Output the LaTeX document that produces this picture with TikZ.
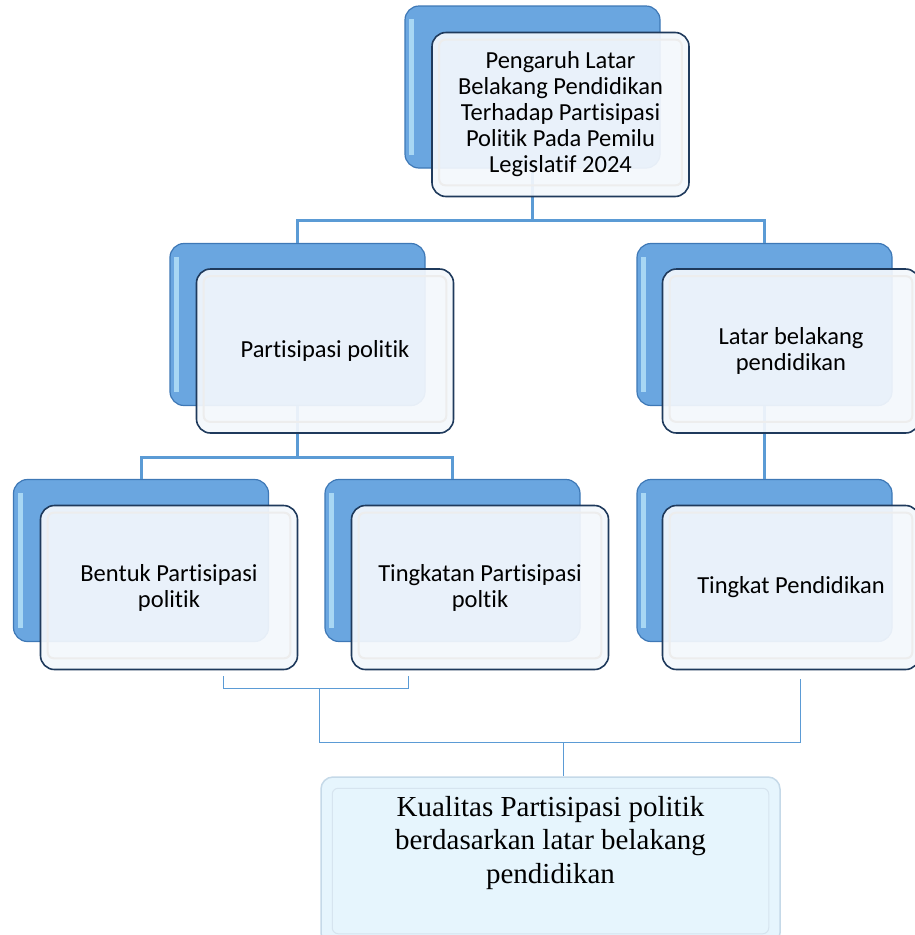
\documentclass[tikz,border=0pt]{standalone}
\usepackage{fontspec}
\setmainfont{Carlito}[Ligatures={NoCommon}]
\newfontfamily\serifface{Liberation Serif}
\usetikzlibrary{positioning}

\definecolor{cardblue}{HTML}{6AA6E0}
\definecolor{cardedge}{HTML}{3E78B6}
\definecolor{cardlight}{HTML}{B8E4FA}
\definecolor{facefill}{HTML}{F3F7FC}
\definecolor{faceedge}{HTML}{1F3A5C}
\definecolor{linkblue}{HTML}{5B9BD5}
\definecolor{resultfill}{HTML}{E6F5FD}
\definecolor{resultedge}{HTML}{C5D9E8}

\tikzset{
  back/.style={draw=cardedge, line width=1.2pt, fill=cardblue, rounded corners=14pt,
    minimum width=255pt, minimum height=162pt},
  face/.style={draw=faceedge, line width=1.6pt, fill=facefill, fill opacity=0.93, text opacity=1,
    rounded corners=14pt, minimum width=257pt, minimum height=164pt, align=center,
    font=\fontsize{24.5}{26}\selectfont},
  result/.style={draw=resultedge, line width=1.5pt, fill=resultfill, rounded corners=12pt,
    minimum width=459pt, minimum height=168pt},
  link/.style={draw=linkblue, line width=3pt},
  thinlink/.style={draw=linkblue, line width=1pt},
}

\begin{document}
\begin{tikzpicture}[x=1pt,y=-1pt]
    \useasboundingbox (0,0) rectangle (914,935);

    % blue cards behind
    \node[back] (topB) at (532.5,87) {};
    \node[back] (partB) at (297.5,324.5) {};
    \node[back] (latarB) at (764.5,324.5) {};
    \node[back] (bentukB) at (141,560.5) {};
    \node[back] (tingkatanB) at (452.5,560.5) {};
    \node[back] (tingkatB) at (764.5,560.5) {};

    \foreach \n in {topB,partB,latarB,bentukB,tingkatanB,tingkatB}
        \fill[cardlight, opacity=0.8] ([xshift=5pt,yshift=-14pt]\n.north west) rectangle ([xshift=10pt,yshift=14pt]\n.south west);

    % connectors
    \coordinate (j1) at (533,220);
    \coordinate (j2) at (296,457);
    \draw[link] (topB.south) -- (topB.south |- j1);
    \draw[link] (partB.north) |- (j1) -| (latarB.north);
    \draw[link] (partB.south) -- (partB.south |- j2);
    \draw[link] (bentukB.north) |- (j2) -| (tingkatanB.north);
    \draw[link] (latarB.south) -- (tingkatB.north);

    % front cards
    \node[face] (topF) at (560.5,114.5) {Pengaruh Latar\\Belakang Pendidikan\\Terhadap Partisipasi\\Politik Pada Pemilu\\Legislatif 2024};
    \node[face] (partF) at (325,351) {Partisipasi politik};
    \node[face] (latarF) at (791,351) {Latar belakang\\pendidikan};
    \node[face] (bentukF) at (169,587.5) {Bentuk Partisipasi\\politik};
    \node[face] (tingkatanF) at (480,587.5) {Tingkatan Partisipasi\\poltik};
    \node[face] (tingkatF) at (791,587.5) {Tingkat Pendidikan};

    \foreach \n in {topF,partF,latarF,bentukF,tingkatanF,tingkatF}
        \draw[black!7, line width=2pt, rounded corners=6pt] ([xshift=8pt,yshift=-8pt]\n.north west) rectangle ([xshift=-8pt,yshift=12pt]\n.south east);

    % thin links to the result
    \coordinate (bL) at (223,676);
    \coordinate (bR) at (408,676);
    \coordinate (bM) at (319,688);
    \coordinate (sR) at (800,679);
    \coordinate (sM) at (563,742);
    \draw[thinlink] (bL) -- ++(0,12) -| (bR);
    \draw[thinlink] (bM) -- ++(0,54) -| (sR);

    \node[result] (kualitas) at (550.5,861) {};
    \draw[resultedge!70, line width=1pt, rounded corners=6pt] ([xshift=12pt,yshift=-12pt]kualitas.north west) rectangle ([xshift=-12pt,yshift=12pt]kualitas.south east);
    \draw[thinlink] (sM) -- (sM |- kualitas.north);
    \node[align=center, font=\serifface\fontsize{29}{33.5}\selectfont] (kualitasText) at (550.5,843)
        {Kualitas Partisipasi politik\\berdasarkan latar belakang\\pendidikan};

\end{tikzpicture}
\end{document}
